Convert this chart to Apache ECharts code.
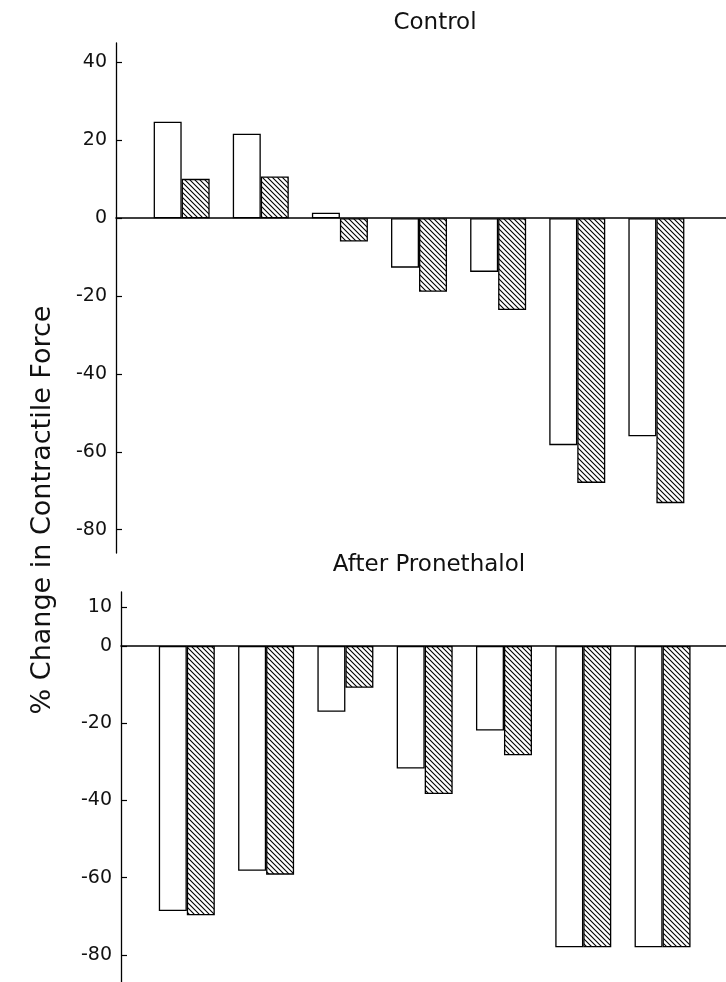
<!DOCTYPE html>
<html><head><meta charset="utf-8">
<script src="https://cdn.jsdelivr.net/npm/echarts@6/dist/echarts.min.js"></script>
<style>html,body{margin:0;padding:0;background:#fff}#c{width:726px;height:982px}</style>
</head><body><div id="c"></div>
<script>
// ---- data ----
const groups = [1, 2, 3, 4, 5, 6, 7];
const controlOpen    = [24.8, 21.7, 1.4, -12.7, -13.8, -58.3, -56.0];
const controlHatched = [10.1, 10.7, -6.0, -18.9, -23.6, -68.0, -73.2];
const afterOpen      = [-68.6, -58.2, -17.0, -31.7, -21.9, -78.0, -78.0];
const afterHatched   = [-69.7, -59.2, -10.8, -38.3, -28.3, -78.0, -78.0];
const controlTicks = [-80, -60, -40, -20, 0, 20, 40];
const afterTicks   = [-80, -60, -40, -20, 0, 10];
const panelTitles = ['Control', 'After Pronethalol'];
const yName = '% Change in Contractile Force';

// ---- styling ----
const FONT = 'DejaVu Sans';
function hatchCanvas() {
  const s = 5, c = document.createElement('canvas');
  c.width = s; c.height = s;
  const g = c.getContext('2d');
  g.fillStyle = '#fff'; g.fillRect(0, 0, s, s);
  g.strokeStyle = '#000'; g.lineWidth = 1.1;
  g.beginPath();
  for (const k of [-s, 0, s]) { g.moveTo(-1, -1 + k); g.lineTo(s + 1, s + 1 + k); }
  g.stroke();
  return c;
}
const hatch = { image: hatchCanvas(), repeat: 'repeat' };
const pairs = vals => groups.map((g, i) => [g, vals[i]]);

function yAxisDef(gridIndex, min, max, ticks) {
  return {
    type: 'value', gridIndex, min, max,
    axisLine: { show: true, onZero: false, lineStyle: { color: '#000', width: 1.3 } },
    axisTick: { show: true, inside: true, length: 6, customValues: ticks, lineStyle: { color: '#000', width: 1.2 } },
    axisLabel: { customValues: ticks, color: '#111', fontSize: 19, fontFamily: FONT, margin: 9 },
    splitLine: { show: false }
  };
}
function xAxisDef(gridIndex, min, max) {
  return {
    type: 'value', gridIndex, min, max,
    axisLine: { show: true, onZero: true, lineStyle: { color: '#000', width: 1.6 } },
    axisTick: { show: false }, axisLabel: { show: false }, splitLine: { show: false }
  };
}
function barSeries(idx, vals, fill) {
  return {
    type: 'bar', xAxisIndex: idx, yAxisIndex: idx, data: pairs(vals),
    barWidth: 28, barGap: '0%',
    itemStyle: { color: fill, borderColor: '#000', borderWidth: 1.3 },
    silent: true, animation: false
  };
}

const chart = echarts.init(document.getElementById('c'), null, { renderer: 'canvas' });
chart.setOption({
  backgroundColor: '#fff',
  animation: false,
  grid: [
    { left: 116, right: 0, top: 43, height: 510 },
    { left: 121, right: 0, top: 592, height: 391 }
  ],
  xAxis: [xAxisDef(0, 0.17, 7.88), xAxisDef(1, 0.17, 7.80)],
  yAxis: [yAxisDef(0, -86, 45, controlTicks), yAxisDef(1, -87, 14, afterTicks)],
  series: [
    barSeries(0, controlOpen, '#fff'),
    barSeries(0, controlHatched, hatch),
    barSeries(1, afterOpen, '#fff'),
    barSeries(1, afterHatched, hatch)
  ],
  graphic: [
    { type: 'text', x: 435, y: 23, style: { text: panelTitles[0], fontSize: 23, fontFamily: FONT, fill: '#111', textAlign: 'center', textVerticalAlign: 'middle' } },
    { type: 'text', x: 429, y: 565, style: { text: panelTitles[1], fontSize: 23, fontFamily: FONT, fill: '#111', textAlign: 'center', textVerticalAlign: 'middle' } },
    { type: 'text', x: 43, y: 510, rotation: Math.PI / 2, style: { text: yName, fontSize: 27, fontFamily: FONT, fill: '#111', textAlign: 'center', textVerticalAlign: 'middle' } }
  ]
});
</script></body></html>
